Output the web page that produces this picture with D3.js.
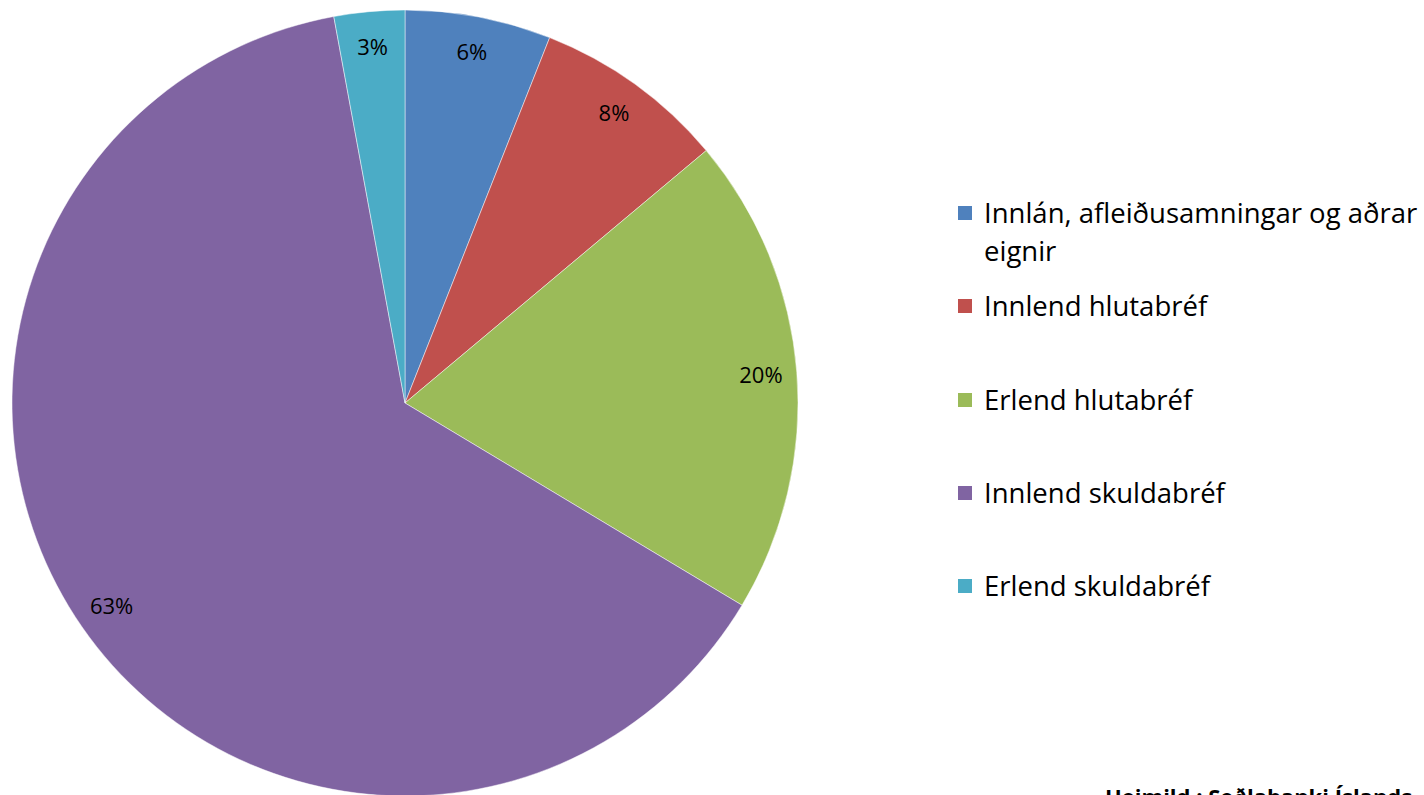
<!DOCTYPE html>
<html><head><meta charset="utf-8">
<script src="https://cdn.jsdelivr.net/npm/d3@7"></script>
<style>body{margin:0;background:#fff;overflow:hidden}</style>
</head><body>
<svg id="c" width="1424" height="795"></svg>
<script>
const categories = ["Innlán, afleiðusamningar og aðrar eignir","Innlend hlutabréf","Erlend hlutabréf","Innlend skuldabréf","Erlend skuldabréf"];
const legendLines = [["Innlán, afleiðusamningar og aðrar","eignir"],["Innlend hlutabréf"],["Erlend hlutabréf"],["Innlend skuldabréf"],["Erlend skuldabréf"]];
const values = [6.0, 7.9, 19.7, 63.5, 2.9];
const labels = ["6%","8%","20%","63%","3%"];
const colors = ["#4F81BD","#C0504D","#9BBB59","#8064A2","#4BACC6"];
const source = "Heimild : Seðlabanki Íslands";

const svg = d3.select("#c");
const cx = 405, cy = 403, R = 393;
const pie = d3.pie().sort(null).value(d=>d)(values);
const arc = d3.arc().innerRadius(0).outerRadius(R);
const labArc = d3.arc().innerRadius(357).outerRadius(357);
const g = svg.append("g").attr("transform",`translate(${cx},${cy})`);
g.selectAll("path").data(pie).join("path")
  .attr("d",arc).attr("fill",(d,i)=>colors[i])
  .attr("stroke","#fff").attr("stroke-width",0.8).attr("stroke-opacity",0.6);
g.selectAll("text").data(pie).join("text")
  .attr("transform",d=>`translate(${labArc.centroid(d)})`)
  .attr("text-anchor","middle").attr("dy","0.35em")
  .attr("font-family","'Open Sans', sans-serif").attr("font-size",22).attr("fill","#000")
  .text((d,i)=>labels[i]);

const lg = svg.append("g");
const rowY = [213,306,400,493,586];
categories.forEach((c,i)=>{
  lg.append("rect").attr("x",958).attr("y",rowY[i]-7).attr("width",14).attr("height",14).attr("fill",colors[i]);
  legendLines[i].forEach((t,j)=>{
    lg.append("text").attr("x",984).attr("y",rowY[i]+j*38).attr("dy","0.35em")
      .attr("font-family","'Open Sans', sans-serif").attr("font-size",27.5).attr("fill","#000").text(t);
  });
});
svg.append("text").attr("x",1105).attr("y",805).attr("font-family","'Open Sans', sans-serif")
  .attr("font-weight","bold").attr("font-size",22).attr("fill","#000").text(source);
</script>
</body></html>
